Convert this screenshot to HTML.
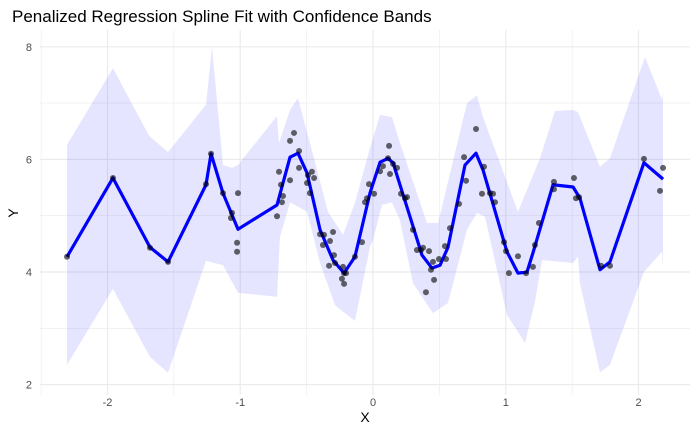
<!DOCTYPE html>
<html><head><meta charset="utf-8"><style>
html,body{margin:0;padding:0;background:#fff;}
svg{display:block;font-family:"Liberation Sans",sans-serif;}
</style></head><body>
<svg id="chart" width="700" height="432">
<text x="12" y="22" font-size="17" fill="#000">Penalized Regression Spline Fit with Confidence Bands</text>
<g id="grid"></g>
<polygon id="band" fill="#0000ff" fill-opacity="0.1"></polygon>
<polyline id="fit" fill="none" stroke="#0000ff" stroke-width="3.2" stroke-linejoin="round"></polyline>
<g id="pts"></g>
<g id="labels"></g>
<text x="365" y="422" font-size="14" text-anchor="middle">X</text>
<text x="18" y="213" font-size="14" text-anchor="middle" transform="rotate(-90 18 213)">Y</text>
</svg>
<script>
const xTicks=[-2,-1,0,1,2];
const yTicks=[2,4,6,8];
const fitX=[-2.305,-1.959,-1.680,-1.544,-1.258,-1.220,-1.130,-1.017,-0.723,-0.625,-0.565,-0.497,-0.399,-0.301,-0.218,-0.136,-0.023,0.053,0.113,0.151,0.279,0.369,0.444,0.505,0.565,0.693,0.776,0.829,1.009,1.092,1.160,1.205,1.356,1.507,1.559,1.710,1.785,2.041,2.185];
const fitY=[4.27,5.67,4.44,4.18,5.55,6.10,5.40,4.76,5.19,6.04,6.11,5.76,4.75,4.21,3.98,4.27,5.40,5.95,6.02,5.94,4.98,4.30,4.07,4.12,4.44,5.90,6.11,5.81,4.36,3.98,4.00,4.34,5.55,5.51,5.31,4.04,4.18,5.94,5.65];
const upX=[-2.305,-1.959,-1.687,-1.544,-1.258,-1.213,-1.130,-1.062,-1.017,-0.723,-0.708,-0.625,-0.565,-0.475,-0.339,-0.226,-0.136,-0.023,0.053,0.143,0.203,0.407,0.490,0.708,0.783,0.829,1.092,1.258,1.371,1.507,1.544,1.710,1.785,2.049,2.177,2.185];
const upY=[6.26,7.62,6.42,6.13,6.97,8.00,5.90,5.85,5.90,6.77,6.29,6.88,7.09,6.29,5.07,4.66,5.23,6.20,6.79,6.75,6.29,4.87,4.87,7.00,7.14,6.75,5.07,6.02,6.86,6.88,6.84,5.87,6.02,7.82,7.06,7.20];
const loX=[-2.305,-1.959,-1.680,-1.544,-1.258,-1.130,-1.017,-0.723,-0.701,-0.625,-0.497,-0.399,-0.286,-0.136,-0.023,0,0.068,0.143,0.203,0.301,0.452,0.565,0.708,0.783,0.844,1.009,1.145,1.220,1.273,1.507,1.544,1.559,1.710,1.785,2.041,2.177,2.185];
const loY=[2.35,3.70,2.49,2.21,4.20,4.12,3.63,3.56,4.62,5.24,5.07,4.16,3.41,3.13,4.44,4.57,5.19,5.24,4.92,3.80,3.27,3.45,4.75,5.05,4.98,3.24,2.74,3.47,4.21,4.16,4.27,3.80,2.22,2.35,4.00,4.36,4.07];
const ptX=[-2.305,-1.959,-1.680,-1.544,-1.258,-1.220,-1.130,-1.062,-1.070,-1.017,-1.024,-1.024,-0.723,-0.708,-0.693,-0.678,-0.686,-0.625,-0.625,-0.595,-0.557,-0.557,-0.497,-0.490,-0.460,-0.444,-0.475,-0.399,-0.369,-0.377,-0.324,-0.301,-0.294,-0.331,-0.286,-0.226,-0.218,-0.203,-0.234,-0.218,-0.136,-0.083,-0.060,-0.045,-0.030,0.008,0.053,0.075,0.113,0.121,0.128,0.151,0.181,0.211,0.241,0.256,0.301,0.331,0.362,0.377,0.422,0.437,0.452,0.460,0.399,0.497,0.550,0.542,0.580,0.648,0.686,0.701,0.776,0.836,0.821,0.881,0.904,0.919,0.987,1.002,1.024,1.092,1.153,1.205,1.220,1.250,1.363,1.363,1.514,1.529,1.552,1.718,1.785,2.041,2.185,2.162];
const ptY=[4.27,5.67,4.43,4.18,5.56,6.10,5.40,5.05,4.96,5.40,4.52,4.36,4.99,5.78,5.55,5.35,5.24,5.63,6.33,6.47,6.15,5.85,5.58,5.72,5.78,5.67,5.40,4.67,4.66,4.48,4.55,4.71,4.30,4.11,4.16,4.09,3.98,3.98,3.88,3.79,4.27,4.53,5.24,5.31,5.56,5.39,5.79,5.88,6.02,6.24,5.74,5.92,5.85,5.39,5.31,5.33,4.75,4.39,4.39,4.43,4.37,4.04,4.18,3.86,3.64,4.23,4.23,4.46,4.78,5.21,6.04,5.62,6.54,5.87,5.39,5.40,5.39,5.24,4.53,4.37,3.98,4.28,3.98,4.09,4.48,4.87,5.60,5.47,5.67,5.31,5.33,4.11,4.11,6.01,5.85,5.44];

const NS='http://www.w3.org/2000/svg';
const sx=v=>373+v*132.75;
const sy=v=>272-(v-4)*56.3;
const L=40,R=690,T=30,B=395;
const grid=document.getElementById('grid');
function line(x1,y1,x2,y2,w,nm){const l=document.createElementNS(NS,'line');l.setAttribute('x1',x1);l.setAttribute('y1',y1);l.setAttribute('x2',x2);l.setAttribute('y2',y2);l.setAttribute('stroke','#ebebeb');l.setAttribute('stroke-width',w);


grid.appendChild(l);}
for(let v=-2.5;v<=2.5;v+=1){line(sx(v),T,sx(v),B,0.6,'x-minor-grid');}
for(let v=3;v<=7;v+=2){line(L,sy(v),R,sy(v),0.6,'y-minor-grid');}
xTicks.forEach(v=>line(sx(v),T,sx(v),B,1.2,'x-major-grid'));
yTicks.forEach(v=>line(L,sy(v),R,sy(v),1.2,'y-major-grid'));
const labels=document.getElementById('labels');
function txt(x,y,s,anchor,nm){const t=document.createElementNS(NS,'text');t.setAttribute('x',x);t.setAttribute('y',y);t.setAttribute('font-size','11');t.setAttribute('fill','#4d4d4d');t.setAttribute('text-anchor',anchor);t.textContent=s;


labels.appendChild(t);}
xTicks.forEach(v=>txt(sx(v),406,String(v),'middle','x-tick-label'));
yTicks.forEach(v=>txt(32,sy(v)+4,String(v),'end','y-tick-label'));
const up=upX.map((x,i)=>sx(x)+','+sy(upY[i]));
const lo=loX.map((x,i)=>sx(x)+','+sy(loY[i])).reverse();
document.getElementById('band').setAttribute('points',up.concat(lo).join(' '));
document.getElementById('fit').setAttribute('points',fitX.map((x,i)=>sx(x)+','+sy(fitY[i])).join(' '));
const pts=document.getElementById('pts');
ptX.forEach((x,i)=>{const c=document.createElementNS(NS,'circle');c.setAttribute('cx',sx(x));c.setAttribute('cy',sy(ptY[i]));c.setAttribute('r','3');c.setAttribute('fill','#000');c.setAttribute('fill-opacity','0.6');


pts.appendChild(c);});
</script>
</body></html>
